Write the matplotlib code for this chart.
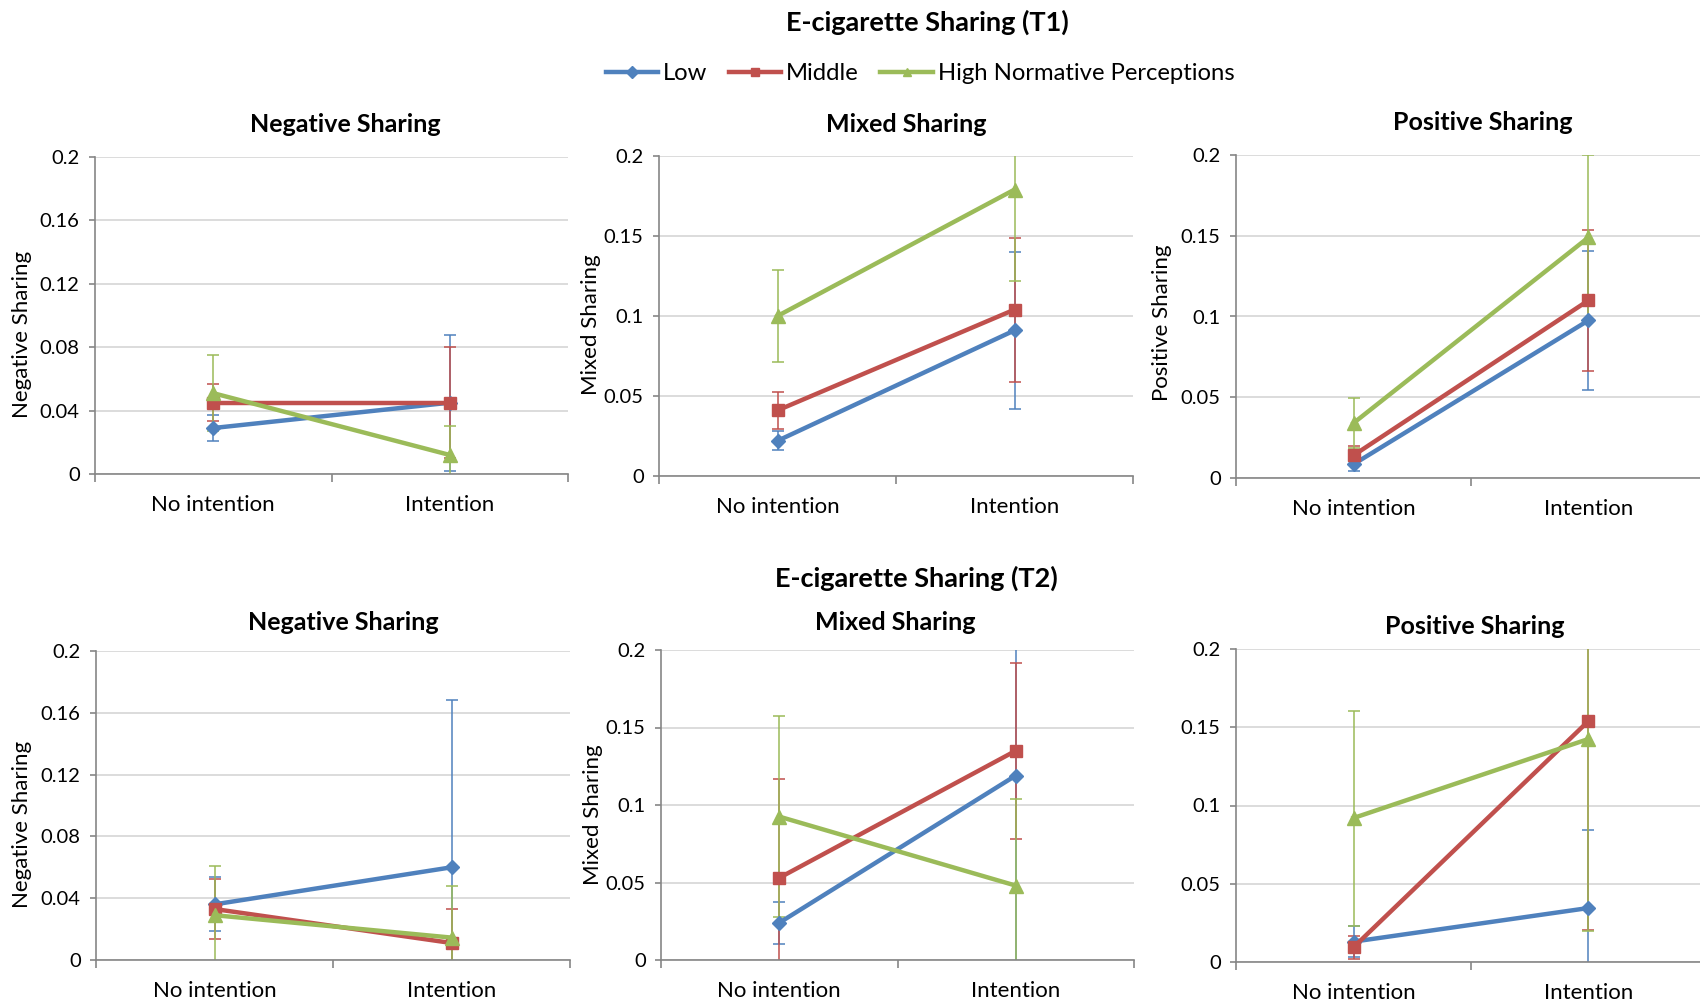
import numpy as np
import matplotlib.pyplot as plt
from matplotlib.lines import Line2D

plt.rcParams['font.family'] = ['Lato', 'DejaVu Sans']

W, H = 1700, 1008

categories = ['No intention', 'Intention']
groups = ['Low', 'Middle', 'High Normative Perceptions']
colors = ['#4F81BD', '#C0504D', '#9BBB59']
markers = ['D', 's', '^']
msizes = [7, 9, 9.5]

# rows: Low, Middle, High; columns: No intention, Intention
t1_neg = [[0.029, 0.045], [0.045, 0.045], [0.051, 0.012]]
t1_neg_err = [[0.008, 0.043], [0.0115, 0.035], [0.024, 0.0185]]
t1_mix = [[0.022, 0.091], [0.041, 0.104], [0.100, 0.179]]
t1_mix_err = [[0.006, 0.049], [0.0115, 0.045], [0.029, 0.057]]
t1_pos = [[0.0085, 0.0976], [0.014, 0.110], [0.034, 0.149]]
t1_pos_err = [[0.004, 0.043], [0.0056, 0.0435], [0.0155, 0.051]]
t2_neg = [[0.036, 0.060], [0.033, 0.011], [0.029, 0.0145]]
t2_neg_err = [[0.0175, 0.108], [0.0195, 0.0223], [0.032, 0.0337]]
t2_mix = [[0.024, 0.119], [0.053, 0.135], [0.0925, 0.048]]
t2_mix_err = [[0.0137, 0.125], [0.064, 0.0567], [0.065, 0.056]]
t2_pos = [[0.013, 0.0345], [0.0094, 0.154], [0.092, 0.1425]]
t2_pos_err = [[0.010, 0.0496], [0.0074, 0.1337], [0.0687, 0.123]]

neg_ticks = [0, 0.04, 0.08, 0.12, 0.16, 0.2]
neg_labels = ['0', '0.04', '0.08', '0.12', '0.16', '0.2']
std_ticks = [0, 0.05, 0.1, 0.15, 0.2]
std_labels = ['0', '0.05', '0.1', '0.15', '0.2']


def px_rect(x0, x1, y0, y1):
    return [x0 / W, 1 - y1 / H, (x1 - x0) / W, (y1 - y0) / H]


# (means, errors, title, axes box in px, ticks, labels, title pos, ylabel pos)
panels = [
    (t1_neg, t1_neg_err, 'Negative Sharing', (95, 568, 157, 474), neg_ticks, neg_labels, (345, 124), (22, 334)),
    (t1_mix, t1_mix_err, 'Mixed Sharing', (659, 1133, 156, 476), std_ticks, std_labels, (906, 124), (591, 325)),
    (t1_pos, t1_pos_err, 'Positive Sharing', (1236, 1706, 155, 478), std_ticks, std_labels, (1483, 122), (1162, 323)),
    (t2_neg, t2_neg_err, 'Negative Sharing', (96, 570, 651, 960), neg_ticks, neg_labels, (343, 623), (22, 824)),
    (t2_mix, t2_mix_err, 'Mixed Sharing', (661, 1134, 650, 960), std_ticks, std_labels, (895, 623), (593, 815)),
    (t2_pos, t2_pos_err, 'Positive Sharing', (1236, 1706, 649, 962), std_ticks, std_labels, (1475, 627), None),
]

fig = plt.figure(figsize=(W / 100, H / 100), dpi=100)
x = np.array([0.5, 1.5])

for means, errs, title, box, ticks, labels, tpos, ypos in panels:
    ax = fig.add_axes(px_rect(*box))
    for i in range(3):
        ax.errorbar(x, means[i], yerr=errs[i], fmt='none', ecolor=colors[i],
                    elinewidth=1.1, capsize=4, capthick=1.1, zorder=2)
        ax.plot(x, means[i], color=colors[i], lw=3.2, marker=markers[i],
                ms=msizes[i], mec=colors[i], zorder=3)
    ax.set_xlim(0, 2)
    ax.set_ylim(0, 0.2)
    ax.set_yticks(ticks)
    ax.set_yticklabels(labels)
    ax.set_xticks([0, 1, 2])
    ax.set_xticklabels([])
    ax.set_xticks(x, minor=True)
    ax.set_xticklabels(categories, minor=True)
    ax.tick_params(axis='x', which='major', length=6, width=1.2, color='#868686')
    ax.tick_params(axis='x', which='minor', length=0, pad=15, labelsize=16)
    ax.tick_params(axis='y', length=4, width=1.2, color='#868686', pad=7, labelsize=14.5)
    ax.yaxis.grid(True, color='#D9D9D9', lw=1.3)
    ax.set_axisbelow(True)
    for s in ['top', 'right']:
        ax.spines[s].set_visible(False)
    for s in ['left', 'bottom']:
        ax.spines[s].set_color('#868686')
        ax.spines[s].set_linewidth(1.2)
    fig.text(tpos[0] / W, 1 - tpos[1] / H, title, ha='center', va='center',
             fontsize=18, fontweight='bold')
    if ypos is not None:
        fig.text(ypos[0] / W, 1 - ypos[1] / H, title, ha='center', va='center',
                 rotation=90, fontsize=16)

fig.text(927 / W, 1 - 22 / H, 'E-cigarette Sharing (T1)', ha='center', va='center',
         fontsize=19.5, fontweight='bold')
fig.text(916 / W, 1 - 578 / H, 'E-cigarette Sharing (T2)', ha='center', va='center',
         fontsize=19.5, fontweight='bold')

handles = [Line2D([], [], color=colors[i], lw=3.2, marker=markers[i], ms=6)
           for i in range(3)]
fig.legend(handles, groups, loc='center', bbox_to_anchor=(920 / W, 1 - 74 / H),
           ncol=3, frameon=False, fontsize=17.2, handlelength=2.2,
           handletextpad=0.2, columnspacing=0.9)

fig.savefig('out.png', dpi=100)
